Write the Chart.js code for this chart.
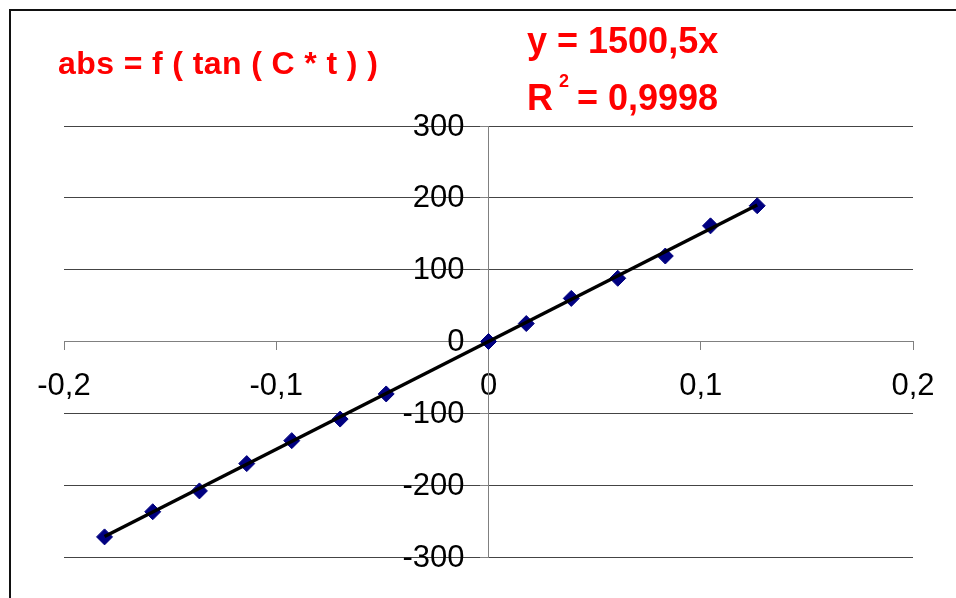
<!DOCTYPE html>
<html>
<head>
<meta charset="utf-8">
<script src="https://cdn.jsdelivr.net/npm/chart.js@4.4.1/dist/chart.umd.min.js"></script>
<style>
  html, body { margin: 0; padding: 0; background: #fff; overflow: hidden; }
  #wrap { position: relative; width: 956px; height: 598px; }
</style>
</head>
<body>
<div id="wrap"><canvas id="absChart"></canvas></div>
<script>
// tan(C*t) values and measured absorbance
const tanValues = [-0.1809, -0.1582, -0.1362, -0.1139, -0.0927, -0.0699, -0.0482, 0, 0.0178, 0.0390, 0.0609, 0.0833, 0.1046, 0.1266];
const absValues = [-272, -237, -208, -170, -138, -108, -73, 0, 25, 60, 88, 119, 161, 189];

// linear trendline through origin, as printed on the chart
const slope = 1500.5;
const trendX = [tanValues[0], tanValues[tanValues.length - 1]];

const xTicks = [-0.2, -0.1, 0, 0.1, 0.2];
const yTicks = [-300, -200, -100, 0, 100, 200, 300];

const fontFamily = "'Liberation Sans', Arial, sans-serif";
const comma = v => String(Math.round(v * 10) / 10).replace(".", ",");

// y labels sit left of the crossing axis, chart.js puts them on it
const yLabels = {
  id: "yLabels",
  afterDatasetsDraw(chart) {
    const { ctx, scales } = chart;
    const x0 = scales.x.getPixelForValue(0);
    ctx.save();
    ctx.fillStyle = "#000";
    ctx.font = "31px " + fontFamily;
    ctx.textAlign = "right";
    ctx.textBaseline = "middle";
    scales.y.ticks.forEach(t => {
      ctx.fillText(String(t.value), x0 - 24, scales.y.getPixelForValue(t.value) + 1);
    });
    ctx.restore();
  }
};

// red annotation texts and the frame of the chart
const annotations = {
  id: "annotations",
  afterDraw(chart) {
    const ctx = chart.ctx;
    ctx.save();
    ctx.fillStyle = "#ff0000";
    ctx.textBaseline = "alphabetic";
    ctx.textAlign = "left";
    ctx.font = "bold 32px " + fontFamily;
    ctx.letterSpacing = "0.4px";
    ctx.fillText("abs = f ( tan ( C * t ) )", 58, 74);
    ctx.letterSpacing = "0px";
    ctx.font = "bold 36px " + fontFamily;
    ctx.fillText("y = 1500,5x", 527, 53);
    ctx.fillText("R", 527, 110);
    const rW = ctx.measureText("R").width;
    ctx.font = "bold 18px " + fontFamily;
    ctx.fillText("2", 527 + rW + 6, 87);
    ctx.font = "bold 36px " + fontFamily;
    ctx.fillText(" = 0,9998", 567, 110);
    ctx.strokeStyle = "#111";
    ctx.lineWidth = 2;
    ctx.strokeRect(10, 10, 1000, 1000);
    ctx.restore();
  }
};

const ctx = document.getElementById("absChart").getContext("2d");
new Chart(ctx, {
  type: "scatter",
  data: {
    datasets: [{
      type: "line",
      label: "Trend",
      data: trendX.map(x => ({ x: x, y: slope * x })),
      borderColor: "#000",
      borderWidth: 3.5,
      pointRadius: 0,
      fill: false,
      order: 0
    }, {
      label: "abs",
      data: tanValues.map((x, i) => ({ x: x, y: absValues[i] })),
      pointStyle: "rectRot",
      pointRadius: 8,
      pointHoverRadius: 8,
      backgroundColor: "#000080",
      borderColor: "#000080",
      borderWidth: 1,
      order: 1
    }]
  },
  options: {
    responsive: true,
    maintainAspectRatio: false,
    animation: false,
    layout: { padding: { left: 64, right: 43, top: 126, bottom: 41 } },
    plugins: {
      legend: { display: false },
      tooltip: { enabled: false }
    },
    scales: {
      x: {
        type: "linear",
        position: { y: 0 },
        min: -0.2,
        max: 0.2,
        afterFit: s => { s.height = 0; },
        afterBuildTicks: s => { s.ticks = xTicks.map(v => ({ value: v })); },
        grid: { drawOnChartArea: false, drawTicks: true, tickLength: 8, color: "#808080" },
        border: { color: "#808080", width: 1 },
        ticks: {
          padding: 18,
          maxRotation: 0,
          color: "#000",
          font: { family: fontFamily, size: 31 },
          callback: v => comma(v)
        }
      },
      y: {
        type: "linear",
        position: { x: 0 },
        min: -300,
        max: 300,
        afterFit: s => { s.width = 0; },
        afterBuildTicks: s => { s.ticks = yTicks.map(v => ({ value: v })); },
        grid: { color: "#444", lineWidth: 1, drawTicks: true, tickLength: 8, tickColor: "#808080" },
        border: { color: "#808080", width: 1 },
        ticks: { display: false }
      }
    }
  },
  plugins: [yLabels, annotations]
});
</script>
</body>
</html>
